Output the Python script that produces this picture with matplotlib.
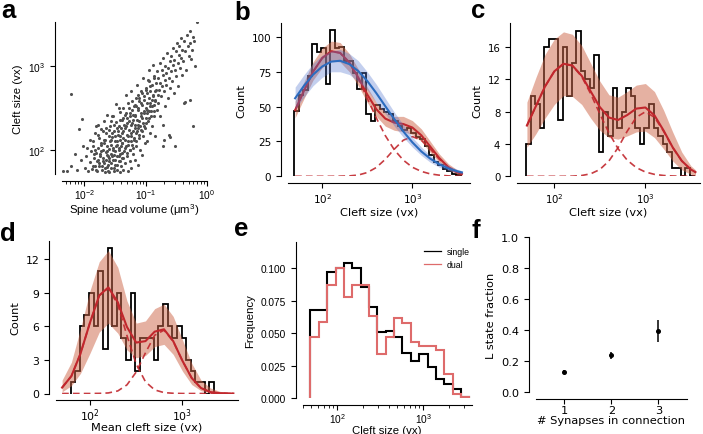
import numpy as np
import matplotlib
matplotlib.use('Agg')
import matplotlib.pyplot as plt
from matplotlib.ticker import NullLocator, FixedLocator
from matplotlib.lines import Line2D

plt.rcParams['mathtext.default'] = 'regular'
plt.rcParams['font.family'] = 'DejaVu Sans'

# ---------------- data ----------------
# panel a: spine head volume vs cleft size (log10 values)
vol_log = [-2.28, -2.21, -2.15, -2.12, -2.05, -2.02, -2.22, -2.09, -2.04, -2.34,
           -1.99, -1.97, -1.95, -1.93, -1.91, -1.90, -1.88, -1.87, -1.85, -1.84, -1.83, -1.82, -1.81, -1.80,
           -1.79, -1.78, -1.77, -1.76, -1.75, -1.74, -1.73, -1.72, -1.71, -1.70, -1.69, -1.68,
           -1.67, -1.66, -1.66, -1.65, -1.64, -1.63, -1.63, -1.62, -1.61, -1.61, -1.60, -1.60,
           -1.59, -1.59, -1.58, -1.57, -1.56, -1.56, -1.55, -1.54, -1.53, -1.53, -1.52, -1.51, -1.50, -1.50,
           -1.49, -1.48, -1.48, -1.47, -1.46, -1.46, -1.45, -1.44, -1.44, -1.43, -1.42, -1.42, -1.41, -1.41,
           -1.40, -1.40,
           -1.39, -1.39, -1.38, -1.38, -1.37, -1.36, -1.36, -1.35, -1.34, -1.34, -1.33, -1.32, -1.32, -1.31,
           -1.30, -1.30, -1.29, -1.28, -1.28, -1.27, -1.26, -1.26, -1.25, -1.24, -1.24, -1.23, -1.23, -1.22,
           -1.22, -1.21, -1.20, -1.20,
           -1.19, -1.19, -1.18, -1.18, -1.17, -1.16, -1.16, -1.15, -1.14, -1.14, -1.13, -1.12, -1.12, -1.11,
           -1.10, -1.10, -1.09, -1.08, -1.08, -1.07, -1.06, -1.06, -1.05, -1.04, -1.04, -1.03, -1.02, -1.02,
           -1.01, -1.00,
           -0.99, -0.99, -0.98, -0.97, -0.97, -0.96, -0.95, -0.94, -0.94, -0.93, -0.92, -0.92, -0.91, -0.90,
           -0.90, -0.89, -0.88, -0.88, -0.87, -0.86, -0.86, -0.85, -0.84, -0.84, -0.83, -0.82, -0.81, -0.80,
           -0.79, -0.79, -0.78, -0.77, -0.76, -0.76, -0.75, -0.74, -0.73, -0.72, -0.72, -0.71, -0.70, -0.69,
           -0.68, -0.68, -0.67, -0.66, -0.65, -0.64, -0.63, -0.62, -0.61, -0.60,
           -0.59, -0.58, -0.57, -0.56, -0.55, -0.54, -0.53, -0.52, -0.51, -0.50, -0.49, -0.48, -0.47, -0.46,
           -0.45, -0.44, -0.43, -0.42, -0.41, -0.40,
           -0.39, -0.37, -0.36, -0.34, -0.33, -0.31, -0.30, -0.28, -0.27, -0.25, -0.23, -0.21,
           -0.23, -0.52, -0.28, -0.17, -0.20, -0.62, -0.38, -0.70, -0.60, -0.71, -0.36, -0.26]
cleft_log = [1.74, 1.80, 1.95, 1.76, 1.88, 2.05, 2.67, 2.25, 2.37, 1.74,
             1.78, 1.92, 2.02, 1.74, 1.85, 2.12, 1.98, 1.77, 2.05, 1.90, 2.20, 1.81, 1.96, 2.28,
             1.74, 1.88, 2.02, 2.14, 1.80, 1.95, 2.25, 2.08, 1.76, 1.90, 2.00, 2.35,
             1.84, 2.12, 1.73, 1.97, 2.20, 1.79, 2.05, 2.42, 1.92, 1.75, 2.16, 2.01,
             1.73, 1.86, 2.28, 2.06, 1.95, 1.78, 2.15, 2.40, 1.88, 2.02, 1.74, 2.22, 1.98, 2.10,
             1.82, 2.33, 2.55, 1.92, 2.06, 1.76, 2.18, 2.00, 1.86, 2.28, 2.12, 1.73, 1.95, 2.45,
             2.04, 1.80,
             2.20, 1.90, 2.36, 2.08, 1.76, 2.14, 2.50, 1.98, 2.26, 1.84, 2.42, 2.04, 2.65, 2.18,
             1.92, 2.32, 1.74, 2.10, 2.56, 2.24, 2.00, 2.40, 1.86, 2.16, 2.30, 2.70, 1.78, 2.06,
             2.48, 2.22, 1.95, 2.36,
             2.12, 2.52, 2.30, 1.88, 2.42, 2.20, 2.62, 2.04, 2.36, 2.78, 2.26, 1.82, 2.48, 2.14,
             2.58, 2.34, 2.00, 2.44, 2.70, 2.24, 2.54, 1.94, 2.38, 2.86, 2.16, 2.46, 2.28, 2.64,
             2.08, 2.50,
             2.32, 2.72, 2.56, 2.10, 2.44, 2.84, 2.62, 2.38, 2.96, 2.52, 2.20, 2.70, 2.46, 2.78,
             2.60, 2.28, 2.66, 3.02, 2.54, 2.40, 2.88, 2.70, 2.16, 2.58, 2.80, 2.48, 2.94, 2.66,
             2.56, 2.86, 2.72, 3.04, 2.40, 2.80, 2.64, 2.96, 2.76, 2.30, 2.90, 3.10, 2.70, 2.84,
             2.52, 3.00, 2.92, 2.78, 3.16, 2.62, 2.98, 2.86, 3.06, 2.74,
             2.94, 3.12, 2.82, 3.02, 3.22, 2.68, 3.08, 2.96, 3.18, 2.88, 3.28, 3.04, 2.76, 3.14,
             3.24, 2.98, 3.34, 3.10, 2.90, 3.20,
             3.06, 3.30, 3.18, 2.96, 3.38, 3.24, 3.12, 3.42, 3.28, 3.20, 3.35, 3.30,
             2.28, 2.05, 2.60, 3.53, 3.00, 2.18, 2.56, 2.12, 2.15, 2.05, 2.57, 3.09]
# the dense core of the cloud
core_vol_log = [-1.86, -1.84, -1.85, -1.81, -1.79, -1.82, -1.78, -1.76, -1.74, -1.73, -1.77,
                -1.71, -1.69, -1.72, -1.68, -1.70, -1.66, -1.64, -1.63, -1.67, -1.65,
                -1.61, -1.59, -1.62, -1.58, -1.60, -1.57, -1.56, -1.54, -1.53, -1.57, -1.55, -1.52,
                -1.51, -1.49, -1.52, -1.48, -1.50, -1.47, -1.53, -1.46, -1.44, -1.43, -1.47, -1.45, -1.42,
                -1.41, -1.39, -1.38, -1.42, -1.40, -1.37, -1.43, -1.36, -1.34, -1.33, -1.37, -1.35, -1.32,
                -1.31, -1.29, -1.28, -1.32, -1.30, -1.27, -1.26, -1.24, -1.23, -1.27, -1.25, -1.22,
                -1.21, -1.19, -1.18, -1.22, -1.20, -1.17, -1.16, -1.14, -1.13, -1.17, -1.15, -1.12,
                -1.11, -1.09, -1.08, -1.12, -1.10, -1.06, -1.04, -1.03, -1.07, -1.05,
                -1.01, -0.99, -0.98, -1.02, -1.00, -0.96, -0.94, -0.93, -0.97, -0.95,
                -0.91, -0.89, -0.88, -0.92, -0.86, -0.84, -0.83, -0.87]
core_cleft_log = [1.80, 1.95, 2.10, 1.76, 1.86, 2.00, 2.18, 1.84, 1.92, 2.06, 2.30,
                  1.80, 1.86, 1.98, 2.12, 2.22, 1.78, 1.88, 1.94, 2.08, 2.26,
                  1.82, 1.90, 1.98, 2.10, 2.24, 2.34, 1.84, 1.92, 2.00, 2.12, 2.20, 2.30,
                  1.78, 1.88, 1.94, 2.04, 2.16, 2.26, 2.40, 1.82, 1.92, 2.02, 2.10, 2.22, 2.36,
                  1.86, 1.96, 2.08, 2.16, 2.26, 2.38, 2.50, 1.90, 2.02, 2.12, 2.22, 2.30, 2.44,
                  1.96, 2.06, 2.16, 2.28, 2.38, 2.50, 2.00, 2.10, 2.20, 2.34, 2.44, 2.58,
                  2.02, 2.14, 2.26, 2.32, 2.42, 2.54, 2.10, 2.22, 2.30, 2.40, 2.52, 2.66,
                  2.18, 2.28, 2.40, 2.50, 2.62, 2.22, 2.32, 2.44, 2.56, 2.68,
                  2.26, 2.38, 2.48, 2.60, 2.74, 2.34, 2.46, 2.56, 2.68, 2.82,
                  2.40, 2.52, 2.64, 2.76, 2.46, 2.60, 2.72, 2.86]

# fitted curves (b, c, d) sampled at these cleft sizes (vx)
fit_size = [50, 63, 79, 100, 126, 158, 200, 251, 316, 398, 501, 631, 794, 1000,
            1259, 1585, 1995, 2512, 3162, 3548]

b_counts = [47, 58, 62, 72, 95, 89, 92, 66, 105, 92, 93, 83, 83, 74, 63, 74, 45, 40, 51,
            48, 46, 45, 40, 36, 33, 35, 31, 28, 27, 22, 15, 10, 8, 5, 4, 2, 1]
b_red = [47.4, 61.7, 75.0, 84.9, 89.7, 88.6, 81.7, 70.9, 58.7, 48.2, 41.4, 38.5, 37.5,
         35.0, 29.4, 21.2, 13.0, 6.6, 2.8, 1.7]
b_red_lo = [42, 56, 69, 78, 83, 82, 75, 65, 53, 43, 36, 33, 32, 30, 25, 17, 10, 4.5, 1.5, 1]
b_red_hi = [54, 68, 82, 92, 97, 96, 88, 77, 64, 53, 46, 43, 43, 40, 34, 25, 16, 9, 4.5, 3]
b_comp1 = [47.4, 61.7, 75.0, 84.9, 89.7, 88.5, 81.4, 70.0, 56.0, 41.9, 29.2, 19.0, 11.6,
           6.5, 3.5, 1.7, 0.8, 0.3, 0.1, 0.1]
b_comp2 = [0, 0, 0, 0, 0, 0.1, 0.3, 0.9, 2.7, 6.3, 12.2, 19.5, 25.9, 28.5, 25.9, 19.5,
           12.2, 6.3, 2.7, 1.6]
b_blue = [56.0, 65.1, 72.9, 78.8, 82.3, 82.9, 80.5, 75.5, 68.4, 59.7, 50.3, 41.0, 32.2,
          24.4, 17.8, 12.6, 8.6, 5.6, 3.6, 2.8]
b_blue_lo = [48, 57, 65, 71, 75, 75, 73, 68, 62, 53, 45, 36, 28, 21, 15, 10, 6.5, 4, 2.5, 2]
b_blue_hi = [64, 73, 81, 87, 90, 91, 88, 83, 75, 66, 56, 46, 37, 28, 21, 15, 10.5, 7.5, 5, 4]

c_counts = [4, 10, 9, 6, 16, 17, 17, 7, 16, 10, 14, 18, 13, 12, 11, 15, 3, 8, 5, 11,
            6, 8, 11, 10, 6, 4, 6, 9, 6, 5, 4, 3, 1, 1, 0, 1, 0]
c_red = [6.29, 8.74, 11.13, 13.01, 13.95, 13.73, 12.45, 10.52, 8.58, 7.28, 6.98, 7.59,
         8.39, 8.53, 7.55, 5.68, 3.59, 1.91, 0.84, 0.52]
c_red_lo = [3.6, 5.3, 7.2, 8.9, 10.0, 9.9, 8.9, 7.2, 5.7, 4.8, 4.6, 5.0, 5.5, 5.6, 4.8,
            3.4, 1.9, 0.8, 0.25, 0.1]
c_red_hi = [9.2, 12.3, 15.1, 17.0, 17.9, 17.6, 16.2, 14.0, 11.8, 10.1, 9.8, 10.5, 11.3,
            11.5, 10.5, 8.2, 5.5, 3.0, 1.3, 0.8]
c_comp1 = [6.29, 8.74, 11.13, 13.01, 13.95, 13.71, 12.35, 10.21, 7.74, 5.38, 3.43, 2.01,
           1.08, 0.53, 0.24, 0.10, 0.04, 0.01, 0, 0]
c_comp2 = [0, 0, 0, 0, 0, 0.02, 0.10, 0.31, 0.84, 1.90, 3.55, 5.58, 7.31, 8.0, 7.31,
           5.58, 3.55, 1.90, 0.84, 0.52]

d_counts = [1, 2, 6, 7, 9, 6, 11, 4, 13, 6, 9, 5, 3, 9, 2, 5, 5, 5, 3, 6, 8, 6, 5, 6,
            5, 3, 2, 1, 1, 0, 1]
d_first_bin = 2
d_red = [0.53, 1.56, 3.57, 6.34, 8.78, 9.50, 8.17, 5.96, 4.56, 4.69, 5.54, 5.75, 4.69,
         2.92, 1.38, 0.49, 0.13, 0.03, 0, 0]
d_red_lo = [0.15, 0.7, 1.8, 3.6, 5.5, 6.3, 5.4, 3.9, 3.2, 3.4, 4.2, 4.4, 3.5, 2.0, 0.8,
            0.25, 0.05, 0, 0, 0]
d_red_hi = [1.2, 2.8, 5.8, 9.2, 11.8, 12.8, 11.3, 8.3, 6.3, 6.5, 7.6, 8.0, 6.9, 4.8, 2.7,
            1.2, 0.5, 0.2, 0.05, 0.02]
d_comp1 = [0.53, 1.56, 3.57, 6.34, 8.77, 9.45, 7.94, 5.19, 2.64, 1.05, 0.32, 0.08, 0.02,
           0, 0, 0, 0, 0, 0, 0]
d_comp2 = [0, 0, 0, 0, 0.01, 0.05, 0.23, 0.77, 1.92, 3.64, 5.22, 5.67, 4.67, 2.92, 1.38,
           0.49, 0.13, 0.03, 0, 0]

e_single = [0.068, 0.068, 0.097, 0.100, 0.104, 0.100, 0.086, 0.070, 0.051, 0.052, 0.047,
            0.035, 0.029, 0.034, 0.024, 0.015, 0.011, 0.007, 0.001]
e_dual = [0.047, 0.059, 0.087, 0.100, 0.078, 0.087, 0.087, 0.063, 0.034, 0.047, 0.062,
          0.058, 0.043, 0.040, 0.040, 0.037, 0.019, 0.003, 0.001]

n_syn = [1, 2, 3]
l_frac = [0.13, 0.235, 0.395]
l_frac_err = [0.008, 0.025, 0.07]

# ---------------- styling ----------------
RED = '#c1272d'
BAND = '#cd6446'
BLUE = '#2c6cbf'
BLUE_BAND = '#5577d0'
E_RED = '#de6b6b'
HELV = 'Liberation Sans'

W, H = 703, 435
fig = plt.figure(figsize=(W / 100, H / 100), dpi=100)

hist_edges = np.logspace(1.69, 3.54, 38)
e_edges = np.logspace(1.69, 3.535, 20)


def box(left, top, right, bottom):
    return fig.add_axes([left / W, 1 - bottom / H, (right - left) / W, (bottom - top) / H])


def style(ax, family, size=7.3, xpad=2.0):
    for s in ('top', 'right'):
        ax.spines[s].set_visible(False)
    for s in ('left', 'bottom'):
        ax.spines[s].set_position(('outward', 5))
        ax.spines[s].set_linewidth(0.8)
    ax.tick_params(which='major', labelsize=size, length=3.5, width=0.8, labelfontfamily=family)
    ax.tick_params(which='minor', length=2, width=0.6)
    ax.tick_params(axis='x', which='major', pad=xpad)


def letter(x, y, s):
    fig.text(x / W, 1 - y / H, s, fontsize=18.5, fontweight='bold', family=HELV, va='baseline')


def fit_panel(ax, counts, edges, red, lo, hi, c1, c2, yticks, ylim, xlabel, size, xpad, lpad=1):
    ax.stairs(counts, edges, color='k', lw=1.3, baseline=0)
    ax.fill_between(fit_size, lo, hi, color=BAND, alpha=0.5, lw=0)
    ax.plot(fit_size, c1, color=RED, lw=1.2, ls=(0, (4, 2.5)), alpha=0.9)
    ax.plot(fit_size, c2, color=RED, lw=1.2, ls=(0, (4, 2.5)), alpha=0.9)
    ax.plot(fit_size, red, color=RED, lw=1.5)
    ax.set_xscale('log')
    ax.set_xlim(10 ** 1.62, 10 ** 3.64)
    ax.set_ylim(*ylim)
    ax.xaxis.set_major_locator(FixedLocator([100, 1000]))
    ax.xaxis.set_minor_locator(NullLocator())
    ax.set_yticks(yticks)
    ax.set_ylabel('Count', fontsize=8.2)
    ax.set_xlabel(xlabel, fontsize=8.2, labelpad=lpad)
    style(ax, 'DejaVu Sans', size, xpad)


# ---- a ----
ax = box(62, 23, 207, 175)
ax.scatter(10 ** np.array(vol_log), 10 ** np.array(cleft_log), s=5, color='#505050', lw=0)
ax.scatter(10 ** np.array(core_vol_log), 10 ** np.array(core_cleft_log), s=5, color='#505050', lw=0)
ax.set_xscale('log')
ax.set_yscale('log')
ax.set_xlim(10 ** -2.36, 1)
ax.set_ylim(10 ** 1.71, 10 ** 3.53)
ax.yaxis.set_minor_locator(NullLocator())
ax.xaxis.set_major_locator(FixedLocator([0.01, 0.1, 1]))
ax.set_xlabel('Spine head volume (μm$^3$)', family=HELV, fontsize=8.2, labelpad=0)
ax.set_ylabel('Cleft size (vx)', family=HELV, fontsize=8.2)
style(ax, HELV, 7.3, 1.0)

# ---- b ----
ax = box(288, 24, 470, 177.3)
ax.fill_between(fit_size, b_blue_lo, b_blue_hi, color=BLUE_BAND, alpha=0.35, lw=0, zorder=2.5)
ax.plot(fit_size, b_blue, color=BLUE, lw=1.5, zorder=2.6)
fit_panel(ax, b_counts, hist_edges, b_red, b_red_lo, b_red_hi, b_comp1, b_comp2,
          [0, 25, 50, 75, 100], (0, 110), 'Cleft size (vx)', 7.5, 2.5)

# ---- c ----
ax = box(517, 24, 700, 177.3)
fit_panel(ax, c_counts, hist_edges, c_red, c_red_lo, c_red_hi, c_comp1, c_comp2,
          [0, 4, 8, 12, 16], (0, 19), 'Cleft size (vx)', 7.3, 2.5)
ax.set_xlim(10 ** 1.59, 10 ** 3.6)

# ---- d ----
ax = box(56, 241.5, 238, 394.5)
fit_panel(ax, d_counts, hist_edges[d_first_bin:d_first_bin + len(d_counts) + 1],
          d_red, d_red_lo, d_red_hi, d_comp1, d_comp2,
          [0, 3, 6, 9, 12], (0, 13.7), 'Mean cleft size (vx)', 7.8, 0.5, lpad=-0.5)
ax.set_xlim(10 ** 1.633, 10 ** 3.6)

# ---- e ----
ax = box(302.7, 243.3, 471.5, 399.3)
ax.stairs(e_single, e_edges, color='k', lw=1.5, baseline=0)
ax.stairs(e_dual, e_edges, color=E_RED, lw=1.5, baseline=0)
ax.set_xscale('log')
ax.set_xlim(10 ** 1.6, 10 ** 3.56)
ax.set_ylim(0, 0.12)
ax.xaxis.set_major_locator(FixedLocator([100, 1000]))
ax.set_yticks([0, 0.025, 0.05, 0.075, 0.1])
ax.set_yticklabels(['0.000', '0.025', '0.050', '0.075', '0.100'])
ax.set_xlabel('Cleft size (vx)', family=HELV, fontsize=8.2, labelpad=0)
ax.set_ylabel('Frequency', family=HELV, fontsize=8.2)
style(ax, HELV, 7.3, 1.0)
handles = [Line2D([], [], color='k', lw=0.9), Line2D([], [], color=E_RED, lw=0.9)]
ax.legend(handles, ['single', 'dual'], loc='upper left', bbox_to_anchor=(424 / W, 1 - 248 / H),
          bbox_transform=fig.transFigure, frameon=False, handlelength=1.9,
          handletextpad=0.7, borderaxespad=0, borderpad=0, labelspacing=0.45,
          prop={'family': HELV, 'size': 6.3})

# ---- f ----
ax = box(536, 238.3, 686.7, 392.7)
ax.errorbar(n_syn, l_frac, yerr=l_frac_err, fmt='o', color='k', ms=2.6, elinewidth=1.1, capsize=0)
ax.set_xlim(0.4, 3.6)
ax.set_ylim(0, 1.0)
ax.set_xticks(n_syn)
ax.set_yticks([0, 0.2, 0.4, 0.6, 0.8, 1.0])
ax.set_yticklabels(['0.0', '0.2', '0.4', '0.6', '0.8', '1.0'])
ax.set_xlabel('# Synapses in connection', fontsize=8.2, labelpad=0)
ax.set_ylabel('L state fraction', fontsize=8.2)
style(ax, 'DejaVu Sans', 8.2, 1.0)

letter(1, 18, 'a')
letter(234, 20, 'b')
letter(471, 18.5, 'c')
letter(0, 241.5, 'd')
letter(234, 236.5, 'e')
letter(472, 238, 'f')

fig.savefig('out.png', dpi=100)
